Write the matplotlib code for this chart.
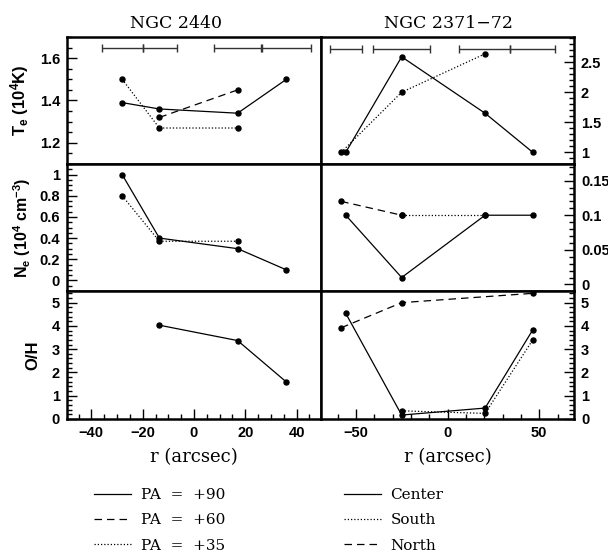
import numpy as np
import matplotlib
matplotlib.use("Agg")
import matplotlib.pyplot as plt
from matplotlib.lines import Line2D
from matplotlib.ticker import MultipleLocator, FuncFormatter
from matplotlib.font_manager import FontProperties

# ---------------- data ----------------
# NGC 2440
r2440_pa90 = [-28, -13.5, 17, 36]
te2440_pa90 = [1.39, 1.36, 1.34, 1.50]
ne2440_pa90 = [1.00, 0.40, 0.30, 0.10]
r2440_oh_pa90 = [-13.5, 17, 36]
oh2440_pa90 = [4.03, 3.37, 1.59]
r2440_pa60 = [-13.5, 17]
te2440_pa60 = [1.32, 1.45]
r2440_pa35 = [-28, -13.5, 17]
te2440_pa35 = [1.50, 1.27, 1.27]
ne2440_pa35 = [0.80, 0.37, 0.37]
slit2440_segments = [(-35.7, -19.9), (-19.9, -6.8), (7.9, 26.0), (26.6, 45.6)]
slit2440_level = 1.65

# NGC 2371-72
r2371_center = [-55.5, -25, 20.5, 46.5]
te2371_center = [1.00, 2.59, 1.65, 1.00]
ne2371_center = [0.10, 0.01, 0.10, 0.10]
oh2371_center = [4.54, 0.17, 0.47, 3.83]
r2371_te_south = [-58, -25, 20.5]
te2371_south = [1.00, 2.00, 2.64]
r2371_ne_south = [-25, 20.5]
ne2371_south = [0.10, 0.10]
r2371_oh_south = [-25, 20.5, 46.5]
oh2371_south = [0.35, 0.24, 3.40]
r2371_ne_north = [-58, -25]
ne2371_north = [0.12, 0.10]
r2371_oh_north = [-58, -25, 46.5]
oh2371_north = [3.92, 5.00, 5.40]
slit2371_segments = [(-64.3, -46.5), (-40.5, -9.4), (6.5, 33.9), (33.9, 58.6)]
slit2371_level = 2.72

titles = ["NGC 2440", "NGC 2371\u221272"]
legend_left = ["PA  =  +90", "PA  =  +60", "PA  =  +35"]
legend_right = ["Center", "South", "North"]

# ---------------- style ----------------
plt.rcParams['mathtext.fontset'] = 'custom'
plt.rcParams['mathtext.rm'] = 'Liberation Sans:bold'
plt.rcParams['mathtext.bf'] = 'Liberation Sans:bold'
plt.rcParams['mathtext.default'] = 'rm'

SOLID = dict(ls='-')
DASH = dict(ls=(0, (6, 4)))
DOT = dict(ls=(0, (1, 1.6)))
LW = 0.9
MS = 3.6

tickfont = dict(family='Liberation Sans', weight='bold', size=10.5)
serif = 'DejaVu Serif'

fig = plt.figure(figsize=(6.08, 5.54), dpi=100)
W, H = 608.0, 554.0
xl, xm, xr = 67 / W, 321 / W, 574 / W
ys = [37, 164, 291, 419]

axes = []
for row in range(3):
    top = 1 - ys[row] / H
    bot = 1 - ys[row + 1] / H
    rowaxes = []
    for col in range(2):
        x0 = xl if col == 0 else xm
        x1 = xm if col == 0 else xr
        ax = fig.add_axes([x0, bot, x1 - x0, top - bot])
        rowaxes.append(ax)
    axes.append(rowaxes)


def plot_series(ax, x, y, style):
    ax.plot(x, y, color='black', lw=LW, marker='o', ms=MS, mec='black', mfc='black', **style)


def slit_bars(ax, segs, level):
    for a, b in segs:
        ax.errorbar([(a + b) / 2], [level], xerr=[(b - a) / 2], fmt='none', ecolor='#333333',
                    elinewidth=1.0, capsize=3, capthick=1.0)


# NGC 2440 column
ax = axes[0][0]
plot_series(ax, r2440_pa90, te2440_pa90, SOLID)
plot_series(ax, r2440_pa60, te2440_pa60, DASH)
plot_series(ax, r2440_pa35, te2440_pa35, DOT)
slit_bars(ax, slit2440_segments, slit2440_level)
ax.set_ylim(1.1, 1.7)
ax.yaxis.set_major_locator(MultipleLocator(0.2))
ax.yaxis.set_minor_locator(MultipleLocator(0.05))

ax = axes[1][0]
plot_series(ax, r2440_pa90, ne2440_pa90, SOLID)
plot_series(ax, r2440_pa35, ne2440_pa35, DOT)
ax.set_ylim(-0.1, 1.1)
ax.yaxis.set_major_locator(MultipleLocator(0.2))
ax.yaxis.set_minor_locator(MultipleLocator(0.05))

ax = axes[2][0]
plot_series(ax, r2440_oh_pa90, oh2440_pa90, SOLID)
ax.set_ylim(0, 5.5)
ax.yaxis.set_major_locator(MultipleLocator(1))
ax.yaxis.set_minor_locator(MultipleLocator(0.2))

# NGC 2371-72 column
ax = axes[0][1]
plot_series(ax, r2371_center, te2371_center, SOLID)
plot_series(ax, r2371_te_south, te2371_south, DOT)
slit_bars(ax, slit2371_segments, slit2371_level)
ax.set_ylim(0.805, 2.92)
ax.yaxis.set_major_locator(MultipleLocator(0.5))
ax.yaxis.set_minor_locator(MultipleLocator(0.1))

ax = axes[1][1]
plot_series(ax, r2371_center, ne2371_center, SOLID)
plot_series(ax, r2371_ne_south, ne2371_south, DOT)
plot_series(ax, r2371_ne_north, ne2371_north, DASH)
ax.set_ylim(-0.0095, 0.174)
ax.yaxis.set_major_locator(MultipleLocator(0.05))
ax.yaxis.set_minor_locator(MultipleLocator(0.01))

ax = axes[2][1]
plot_series(ax, r2371_center, oh2371_center, SOLID)
plot_series(ax, r2371_oh_south, oh2371_south, DOT)
plot_series(ax, r2371_oh_north, oh2371_north, DASH)
ax.set_ylim(0, 5.5)
ax.yaxis.set_major_locator(MultipleLocator(1))
ax.yaxis.set_minor_locator(MultipleLocator(0.2))

gfmt = FuncFormatter(lambda v, p: ('%g' % round(v, 6)).replace('-', '\u2212'))

for row in range(3):
    for col in range(2):
        ax = axes[row][col]
        for s in ax.spines.values():
            s.set_linewidth(1.8)
        if col == 0:
            ax.set_xlim(-49.5, 49.5)
            ax.xaxis.set_major_locator(MultipleLocator(20))
            ax.xaxis.set_minor_locator(MultipleLocator(5))
            ax.tick_params(axis='y', which='both', left=True, right=False,
                           labelleft=True, labelright=False)
        else:
            ax.set_xlim(-69, 69)
            ax.xaxis.set_major_locator(MultipleLocator(50))
            ax.xaxis.set_minor_locator(MultipleLocator(10))
            ax.tick_params(axis='y', which='both', left=False, right=True,
                           labelleft=False, labelright=True)
        ax.tick_params(which='both', direction='in', width=1.0)
        ax.tick_params(which='major', length=7, pad=5)
        ax.tick_params(which='minor', length=3.5)
        bottom_row = (row == 2)
        ax.tick_params(axis='x', which='both', bottom=bottom_row, top=False,
                       labelbottom=bottom_row)
        ax.xaxis.set_major_formatter(gfmt)
        ax.yaxis.set_major_formatter(gfmt)
        for lab in ax.get_xticklabels() + ax.get_yticklabels():
            lab.set_fontproperties(FontProperties(**tickfont))

# y labels
ylabels = [r'T$_{e}$ (10$^{4}$K)', r'N$_{e}$ (10$^{4}$ cm$^{-3}$)', 'O/H']
ylx = [-0.14, -0.135, -0.105]
ylsize = [12, 11.5, 12]
for row in range(3):
    ax = axes[row][0]
    ax.set_ylabel(ylabels[row], fontsize=ylsize[row], fontweight='bold', family='Liberation Sans')
    ax.yaxis.set_label_coords(ylx[row], 0.5)

# titles
fig.text(176 / W, 1 - 23 / H, titles[0], ha='center', va='center', family=serif, fontsize=12.5)
fig.text(448 / W, 1 - 23 / H, titles[1], ha='center', va='center', family=serif, fontsize=12.5)

# x labels
fig.text(194 / W, 1 - 457 / H, 'r (arcsec)', ha='center', va='center', family=serif, fontsize=13)
fig.text(448 / W, 1 - 457 / H, 'r (arcsec)', ha='center', va='center', family=serif, fontsize=13)

# legends
h_left = [Line2D([], [], color='black', lw=LW, **SOLID),
          Line2D([], [], color='black', lw=LW, **DASH),
          Line2D([], [], color='black', lw=LW, **DOT)]
h_right = [Line2D([], [], color='black', lw=LW, **SOLID),
           Line2D([], [], color='black', lw=LW, **DOT),
           Line2D([], [], color='black', lw=LW, **DASH)]
legkw = dict(frameon=False, prop={'family': serif, 'size': 11}, handlelength=2.4,
             handletextpad=0.65, labelspacing=0.74, borderpad=0, borderaxespad=0)
fig.legend(h_left, legend_left, loc='upper left', bbox_to_anchor=(94 / W, 1 - 488 / H), **legkw)
fig.legend(h_right, legend_right, loc='upper left', bbox_to_anchor=(344 / W, 1 - 488 / H), **legkw)

fig.savefig('out.png', dpi=100)
